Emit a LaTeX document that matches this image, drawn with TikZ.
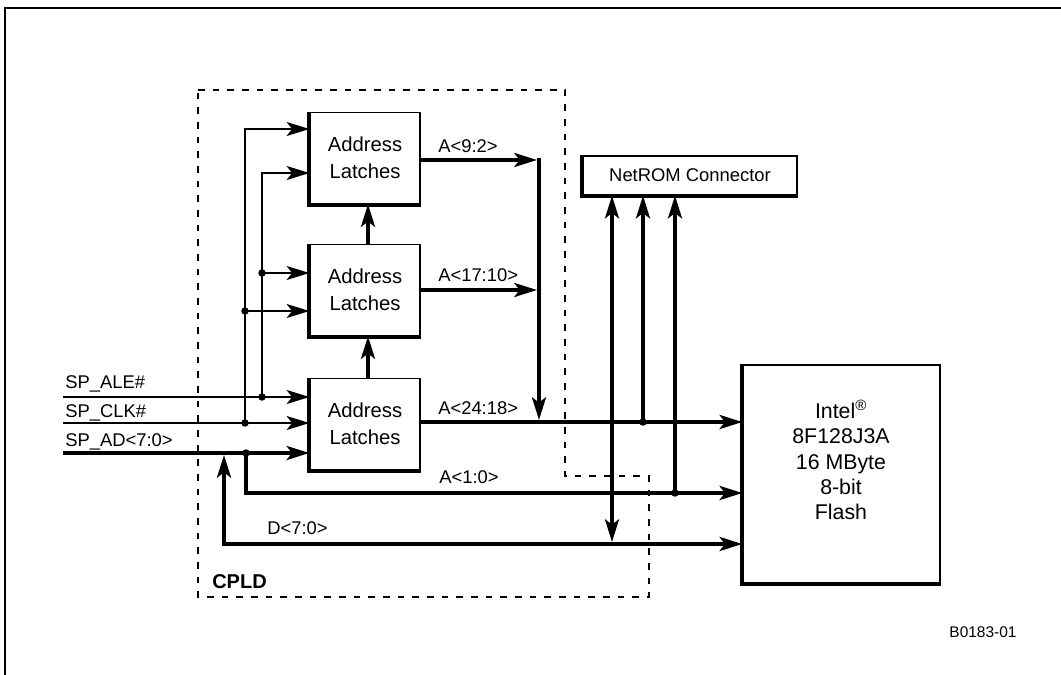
\documentclass[tikz,border=0pt]{standalone}
\usepackage{fontspec}
\setmainfont{Liberation Sans}
\usetikzlibrary{arrows.meta}
\begin{document}
\begin{tikzpicture}[x=0.75pt,y=-0.75pt,
  thinw/.style={line width=1.4pt},
  thickw/.style={line width=2.7pt},
  arr/.style={-{Stealth[length=17pt,width=10.5pt,inset=4pt]}},
  darr/.style={{Stealth[length=17pt,width=10.5pt,inset=4pt]}-{Stealth[length=17pt,width=10.5pt,inset=4pt]}},
  blk/.style={draw, line width=1pt, fill=white, inner sep=0pt},
  latch/.style={blk, minimum width=82.5pt, minimum height=68.25pt, font=\fontsize{15.2}{20}\selectfont, align=center},
  lbl/.style={font=\fontsize{13.8}{16}\selectfont, anchor=base west, inner sep=0pt},
  cpld/.style={dash pattern=on 5pt off 6pt, line width=1.1pt},
  shadowline/.style={line width=2.4pt}
]
\useasboundingbox (0,0) rectangle (1061,675);
% outer frame
\draw[line width=2pt] (5,675) -- (5,8) -- (1061,8);

% CPLD outline
\draw[cpld] (198,90) -- (565,90) -- (565,476) -- (649,476) -- (649,597) -- (198,597) -- cycle;

% blocks
\node[latch] (L1) at (365,158) {Address\\Latches};
\node[latch] (L2) at (365,290) {Address\\Latches};
\node[latch] (L3) at (365,424) {Address\\Latches};
\node[blk, minimum width=160.5pt, minimum height=29.25pt, font=\fontsize{13.8}{16}\selectfont] (net) at (690,175.5) {NetROM Connector};
\node[blk, minimum width=147.75pt, minimum height=163.5pt] (flash) at (841.5,474) {};
\node[font=\fontsize{16}{19}\selectfont, align=center] (flashtxt) at (841,460) {Intel\textsuperscript{®}\\8F128J3A\\16 MByte\\8-bit\\Flash};

\foreach \b in {L1,L2,L3,net,flash}
  \draw[shadowline] ([xshift=-0.7pt]\b.north west) -- ([shift={(-0.7pt,-0.7pt)}]\b.south west) -- ([yshift=-0.7pt]\b.south east);

% coordinates
\coordinate (ale) at (63,397);
\coordinate (clk) at (63,423);
\coordinate (ad) at (63,453);
\coordinate (jA) at (262,397);
\coordinate (jC) at (245,423);
\coordinate (jA2) at (262,273);
\coordinate (jC2) at (245,311);
\coordinate (jD) at (246,453);
\coordinate (tA) at (262,173);
\coordinate (tC) at (245,129);
\coordinate (dT) at (224,455);
\coordinate (dB) at (224,544);
\coordinate (aB) at (246,493);
\coordinate (o1) at (537,160);
\coordinate (o2) at (537,290);
\coordinate (busTop) at (539,158);
\coordinate (busEnd) at (539,420);
\coordinate (nD) at (612,542);
\coordinate (n1) at (643,422);
\coordinate (n2) at (675,493);

% inputs
\draw[thinw,arr] (ale) -- (L3.west |- ale);
\draw[thinw,arr] (clk) -- (L3.west |- clk);
\draw[thickw,arr] (ad) -- (L3.west |- ad);
\draw[thinw,arr] (jA) -- (tA) -- (L1.west |- tA);
\draw[thinw,arr] (jC) -- (tC) -- (L1.west |- tC);
\draw[thinw,arr] (jA2) -- (L2.west |- jA2);
\draw[thinw,arr] (jC2) -- (L2.west |- jC2);

% latch chain
\draw[thickw,arr] ([xshift=2.25pt]L3.north) -- ([xshift=2.25pt]L2.south);
\draw[thickw,arr] ([xshift=2.25pt]L2.north) -- ([xshift=2.25pt]L1.south);

% outputs
\draw[thickw,arr] (L1.east |- o1) -- (o1);
\draw[thickw,arr] (L2.east |- o2) -- (o2);
\draw[thickw,arr] (busTop) -- (busEnd);
\draw[thickw,arr] (L3.east |- n1) -- (flash.west |- n1);
\draw[thickw,arr] (jD) -- (aB) -- (flash.west |- aB);
\draw[thickw,darr] (dT) -- (dB) -- (flash.west |- dB);
\draw[thickw,darr] (nD) -- (net.south -| nD);
\draw[thickw,arr] (n1) -- (net.south -| n1);
\draw[thickw,arr] (n2) -- (net.south -| n2);

% junction dots
\foreach \p in {jA,jC,jA2,jC2,jD,n1,n2}
  \fill (\p) circle (2.8pt);

% labels
\node[lbl] (tale) at (65,388) {SP\_ALE\#};
\node[lbl] (tclk) at (65,417) {SP\_CLK\#};
\node[lbl] (tad) at (65,446) {SP\_AD<7:0>};
\node[lbl] (ta1) at (438,152) {A<9:2>};
\node[lbl] (ta2) at (438,281) {A<17:10>};
\node[lbl] (ta3) at (438,414) {A<24:18>};
\node[lbl] (ta4) at (439,483) {A<1:0>};
\node[lbl] (td) at (267,534) {D<7:0>};
\node[lbl, font=\bfseries\fontsize{15}{18}\selectfont] (tcpld) at (212,588) {CPLD};
\node[font=\fontsize{11.6}{14}\selectfont] (tid) at (983,632) {B0183-01};
\end{tikzpicture}
\end{document}
